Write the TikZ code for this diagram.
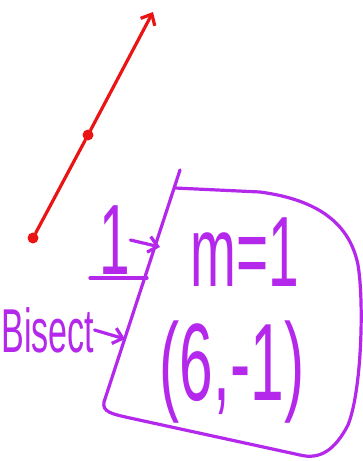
\documentclass[tikz,border=0pt]{standalone}
\usepackage{fontspec}
\setmainfont{Liberation Sans}
\usetikzlibrary{arrows.meta}

\definecolor{penred}{RGB}{235,20,20}
\definecolor{penpurple}{RGB}{180,40,235}

\begin{document}
\begin{tikzpicture}[x=1pt,y=-1pt,>={Straight Barb[length=9pt,width=16pt]},
    pen/.style={line width=3.2pt,line cap=round,line join=round},
    hand/.style={text=penpurple,inner sep=0pt,xscale=.55}]
  \useasboundingbox (0,0) rectangle (363,461);
  % red line with its two points
  \foreach \name/\xpos/\ypos in {p0/33/238,p1/88/135}{
    \node[circle,fill=penred,minimum size=11pt,inner sep=0pt] (\name) at (\xpos,\ypos) {};
  }
  \coordinate (tip) at (153,12);
  \draw[pen,penred,->] (p0) -- (p1) -- (tip);
  % the box
  \draw[pen,penpurple] (180,170) -- (104,402)
    .. controls (102,412) and (112,414) .. (130,418) -- (300,455)
    .. controls (320,460) and (335,450) .. (348,425)
    .. controls (362,390) and (364,300) .. (358,265)
    .. controls (350,225) and (320,200) .. (260,192) -- (175,188);
  % texts
  \node[hand,font=\fontsize{100}{100}\selectfont] (one) at (115,240) {1};
  \draw[pen,penpurple] (90,278) -- (147,278);
  \node[hand,font=\fontsize{100}{100}\selectfont] (slope) at (245,252) {m=1};
  \node[hand,font=\fontsize{110}{110}\selectfont] (point) at (232,372) {(6,-1)};
  \node[hand,font=\fontsize{62}{62}\selectfont] (bisect) at (48,330) {Bisect};
  % arrows into the box
  \coordinate (slopein) at (160,247);
  \coordinate (bisectin) at (125,339);
  \draw[pen,penpurple,->] (one.east) -- (slopein);
  \draw[pen,penpurple,->] (bisect.east) -- (bisectin);
\end{tikzpicture}
\end{document}
